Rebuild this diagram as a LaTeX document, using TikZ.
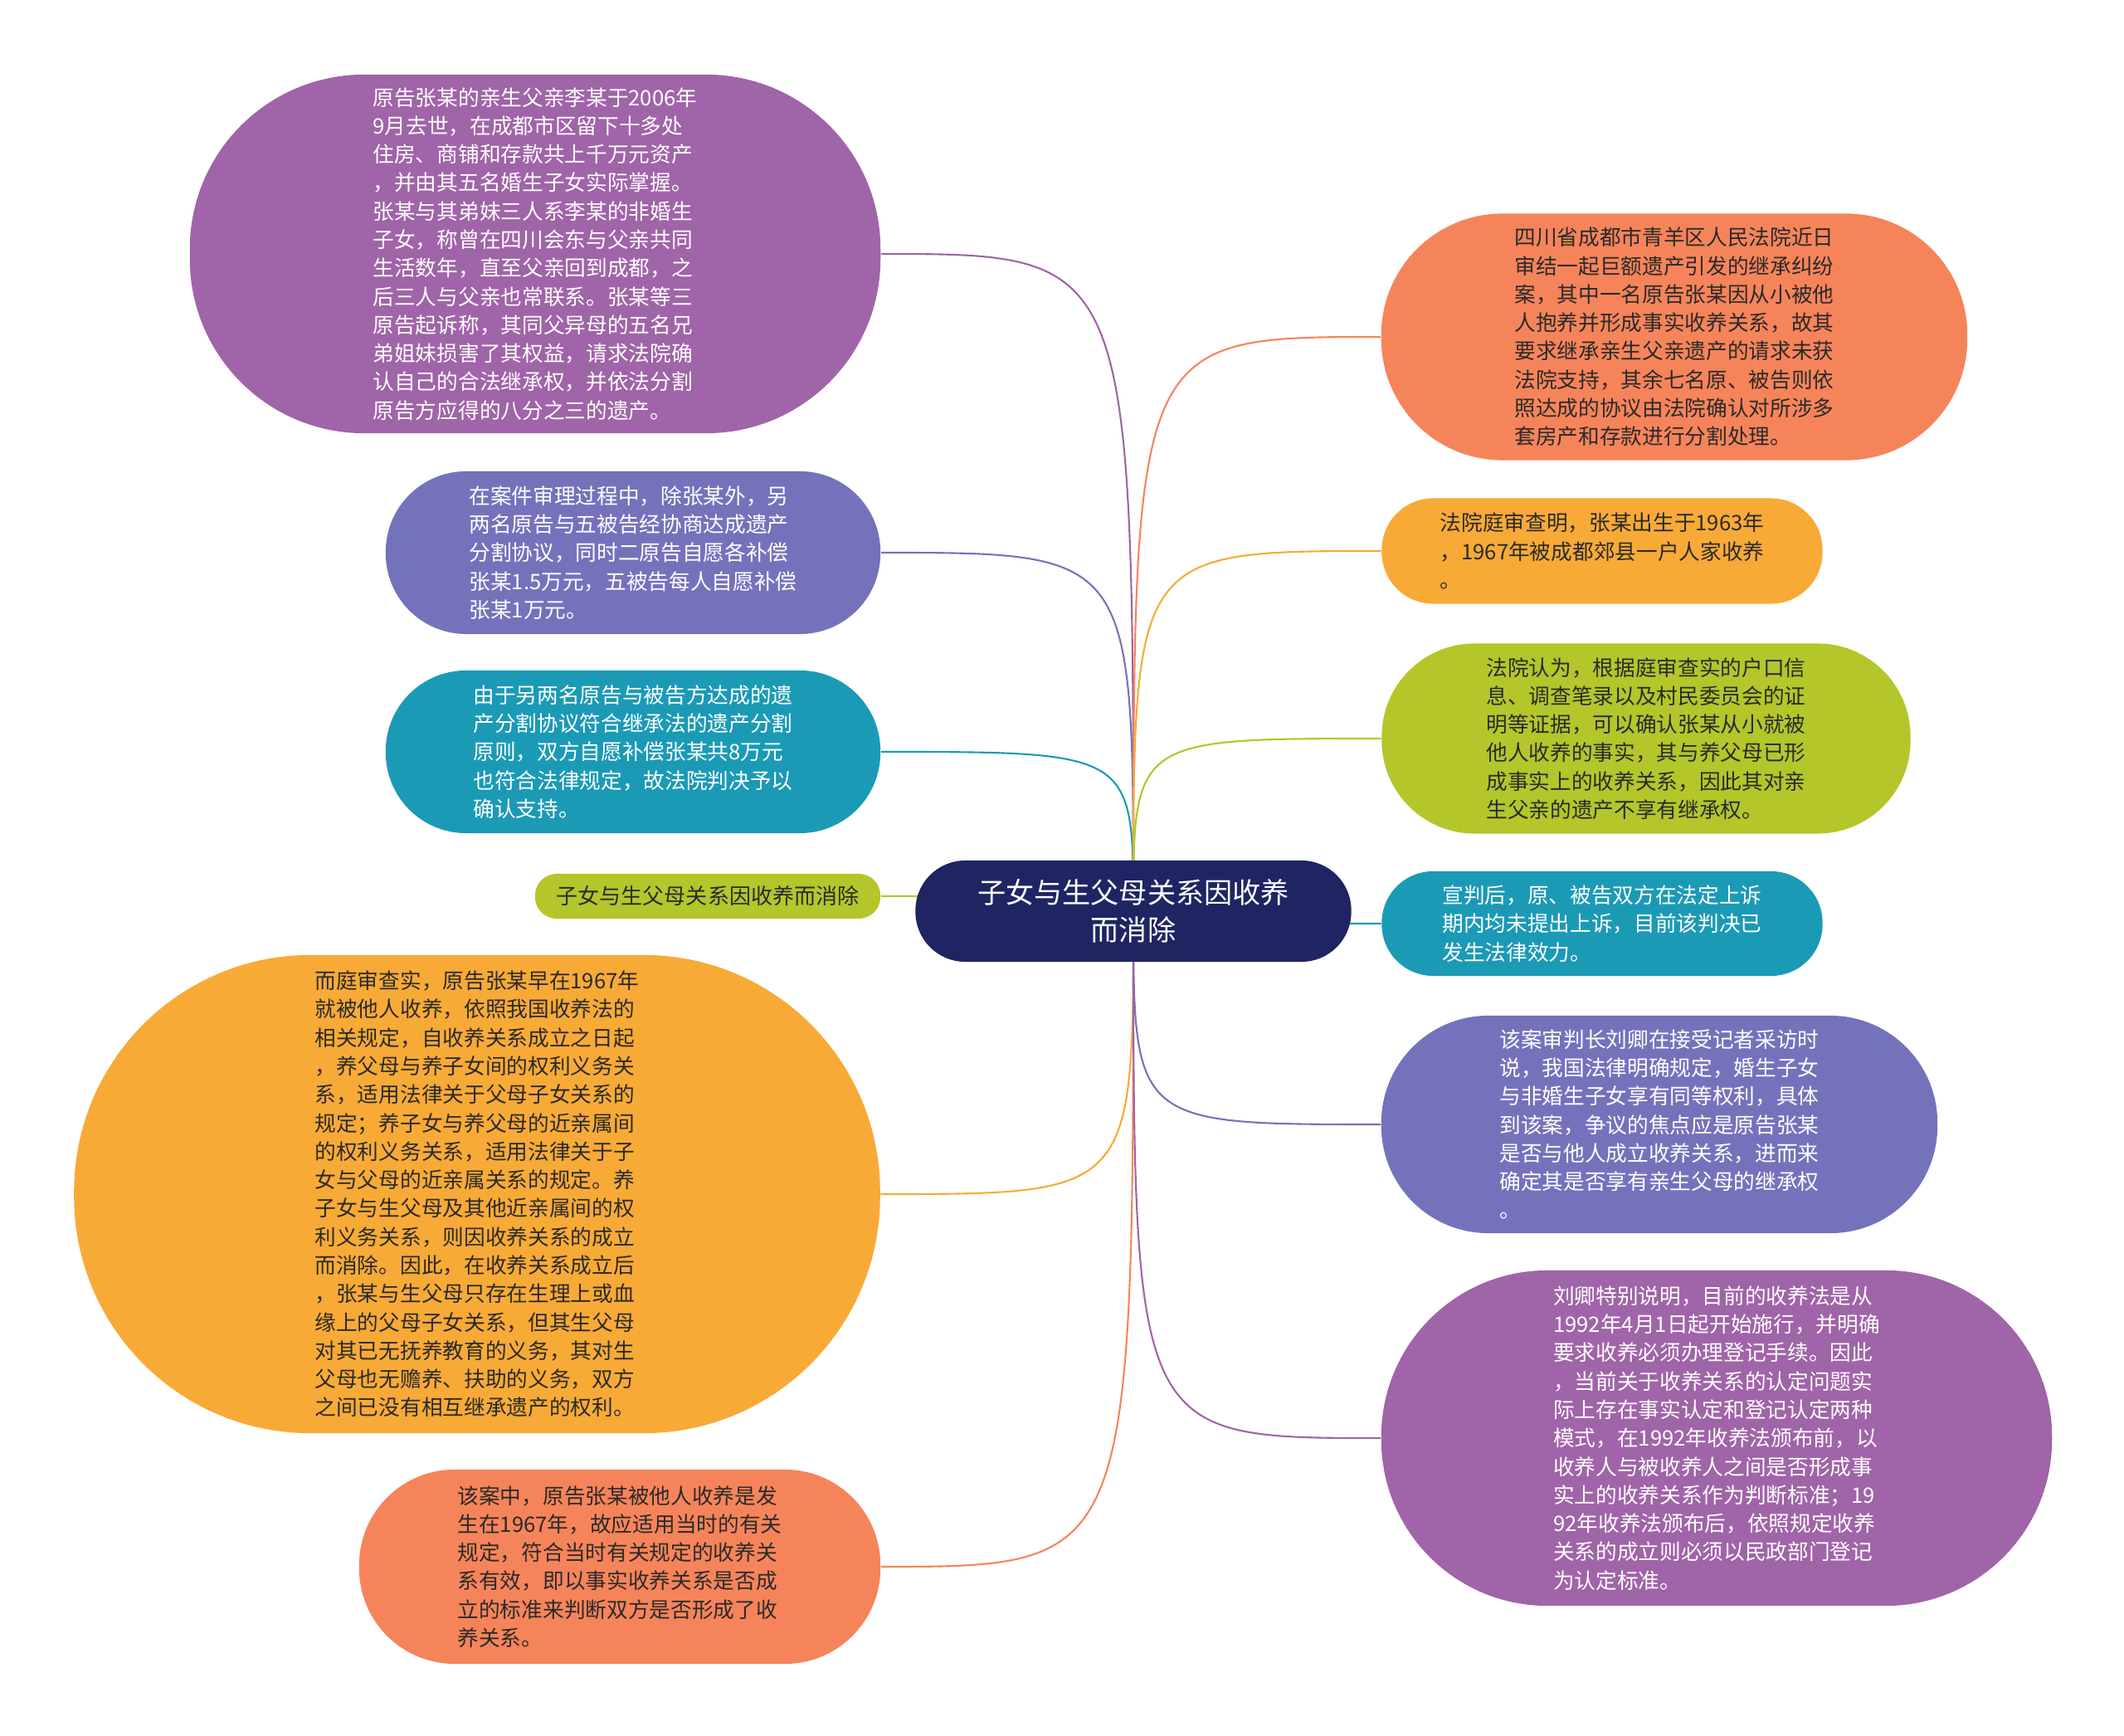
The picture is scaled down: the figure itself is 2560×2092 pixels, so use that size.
\documentclass[tikz,border=0pt]{standalone}
\usepackage{fontspec}
\newfontfamily\cjk{Noto Sans CJK SC}
\usetikzlibrary{backgrounds}
\definecolor{cPurple}{HTML}{A064A8}
\definecolor{cLilac}{HTML}{7572BC}
\definecolor{cTeal}{HTML}{1B9AB6}
\definecolor{cLime}{HTML}{B4C62A}
\definecolor{cOrange}{HTML}{F8AA37}
\definecolor{cCoral}{HTML}{F6845A}
\definecolor{cNavy}{HTML}{1F2562}
\definecolor{cInk}{HTML}{2A2A2A}
\begin{document}
\begin{tikzpicture}[x=0.01cm, y=-0.01cm,
    box/.style={font=\cjk\fontsize{7.3pt}{9.75pt}\selectfont, align=left, inner sep=0pt},
    link/.style={line width=0.6pt}]
\useasboundingbox (0,0) rectangle (2560,2092);

\node[box, fill=cNavy, text=white, align=center, font=\cjk\fontsize{9.7pt}{13pt}\selectfont,
    minimum width=5.25cm, minimum height=1.22cm, rounded corners=0.6cm] (root) at (1366,1098)
    {子女与生父母关系因收养\\而消除};

\node[box, fill=cPurple, text=white, minimum width=8.32cm, minimum height=4.32cm, rounded corners=2.1cm] (father) at (645,306)
    {原告张某的亲生父亲李某于2006年\\9月去世，在成都市区留下十多处\\住房、商铺和存款共上千万元资产\\，并由其五名婚生子女实际掌握。\\张某与其弟妹三人系李某的非婚生\\子女，称曾在四川会东与父亲共同\\生活数年，直至父亲回到成都，之\\后三人与父亲也常联系。张某等三\\原告起诉称，其同父异母的五名兄\\弟姐妹损害了其权益，请求法院确\\认自己的合法继承权，并依法分割\\原告方应得的八分之三的遗产。};
\node[box, fill=cLilac, text=white, minimum width=5.96cm, minimum height=1.96cm, rounded corners=0.97cm] (agree) at (763,666)
    {在案件审理过程中，除张某外，另\\两名原告与五被告经协商达成遗产\\分割协议，同时二原告自愿各补偿\\张某1.5万元，五被告每人自愿补偿\\张某1万元。};
\node[box, fill=cTeal, text=white, minimum width=5.96cm, minimum height=1.96cm, rounded corners=0.97cm] (support) at (763,906)
    {由于另两名原告与被告方达成的遗\\产分割协议符合继承法的遗产分割\\原则，双方自愿补偿张某共8万元\\也符合法律规定，故法院判决予以\\确认支持。};
\node[box, fill=cLime, text=cInk, font=\cjk\fontsize{7.4pt}{9.75pt}\selectfont,
    minimum width=4.16cm, minimum height=0.54cm, rounded corners=0.26cm] (topic) at (853,1080)
    {子女与生父母关系因收养而消除};
\node[box, fill=cOrange, text=cInk, minimum width=9.71cm, minimum height=5.76cm, rounded corners=2.85cm] (law) at (575,1439)
    {而庭审查实，原告张某早在1967年\\就被他人收养，依照我国收养法的\\相关规定，自收养关系成立之日起\\，养父母与养子女间的权利义务关\\系，适用法律关于父母子女关系的\\规定；养子女与养父母的近亲属间\\的权利义务关系，适用法律关于子\\女与父母的近亲属关系的规定。养\\子女与生父母及其他近亲属间的权\\利义务关系，则因收养关系的成立\\而消除。因此，在收养关系成立后\\，张某与生父母只存在生理上或血\\缘上的父母子女关系，但其生父母\\对其已无抚养教育的义务，其对生\\父母也无赡养、扶助的义务，双方\\之间已没有相互继承遗产的权利。};
\node[box, fill=cCoral, text=cInk, minimum width=6.28cm, minimum height=2.34cm, rounded corners=1.15cm] (valid) at (747,1888)
    {该案中，原告张某被他人收养是发\\生在1967年，故应适用当时的有关\\规定，符合当时有关规定的收养关\\系有效，即以事实收养关系是否成\\立的标准来判断双方是否形成了收\\养关系。};

\node[box, fill=cCoral, text=cInk, minimum width=7.06cm, minimum height=2.97cm, rounded corners=1.46cm] (case) at (2018,406)
    {四川省成都市青羊区人民法院近日\\审结一起巨额遗产引发的继承纠纷\\案，其中一名原告张某因从小被他\\人抱养并形成事实收养关系，故其\\要求继承亲生父亲遗产的请求未获\\法院支持，其余七名原、被告则依\\照达成的协议由法院确认对所涉多\\套房产和存款进行分割处理。};
\node[box, fill=cOrange, text=cInk, minimum width=5.31cm, minimum height=1.27cm, rounded corners=0.62cm] (birth) at (1931,664)
    {法院庭审查明，张某出生于1963年\\，1967年被成都郊县一户人家收养\\。};
\node[box, fill=cLime, text=cInk, minimum width=6.37cm, minimum height=2.29cm, rounded corners=1.12cm] (court) at (1984,890)
    {法院认为，根据庭审查实的户口信\\息、调查笔录以及村民委员会的证\\明等证据，可以确认张某从小就被\\他人收养的事实，其与养父母已形\\成事实上的收养关系，因此其对亲\\生父亲的遗产不享有继承权。};
\node[box, fill=cTeal, text=white, minimum width=5.31cm, minimum height=1.26cm, rounded corners=0.62cm] (verdict) at (1931,1113)
    {宣判后，原、被告双方在法定上诉\\期内均未提出上诉，目前该判决已\\发生法律效力。};
\node[box, fill=cLilac, text=white, minimum width=6.70cm, minimum height=2.62cm, rounded corners=1.29cm] (judge) at (2000,1355)
    {该案审判长刘卿在接受记者采访时\\说，我国法律明确规定，婚生子女\\与非婚生子女享有同等权利，具体\\到该案，争议的焦点应是原告张某\\是否与他人成立收养关系，进而来\\确定其是否享有亲生父母的继承权\\。};
\node[box, fill=cPurple, text=white, minimum width=8.08cm, minimum height=4.04cm, rounded corners=2.0cm] (rule) at (2069,1733)
    {刘卿特别说明，目前的收养法是从\\1992年4月1日起开始施行，并明确\\要求收养必须办理登记手续。因此\\，当前关于收养关系的认定问题实\\际上存在事实认定和登记认定两种\\模式，在1992年收养法颁布前，以\\收养人与被收养人之间是否形成事\\实上的收养关系作为判断标准；19\\92年收养法颁布后，依照规定收养\\关系的成立则必须以民政部门登记\\为认定标准。};

\begin{pgfonlayer}{background}
\foreach \n/\c in {father/cPurple, agree/cLilac, support/cTeal, topic/cLime, law/cOrange, valid/cCoral}
    \draw[link, \c] (root.center) .. controls (root.center |- \n.east) and (root.center |- \n.east) .. (\n.east);
\foreach \n/\c in {case/cCoral, birth/cOrange, court/cLime, verdict/cTeal, judge/cLilac, rule/cPurple}
    \draw[link, \c] (root.center) .. controls (root.center |- \n.west) and (root.center |- \n.west) .. (\n.west);
\end{pgfonlayer}
\end{tikzpicture}
\end{document}
